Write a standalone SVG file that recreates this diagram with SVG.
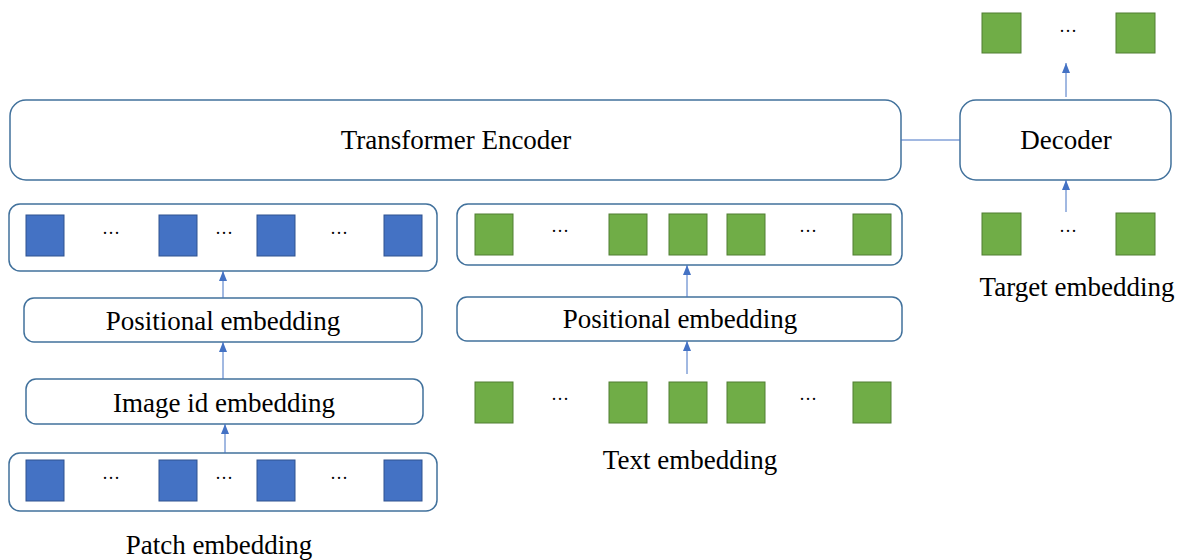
<svg xmlns="http://www.w3.org/2000/svg" width="1177" height="560" viewBox="0 0 1177 560">
<style>
.box{fill:#fff;stroke:#41719C;stroke-width:1.5}
.b{fill:#4472C4;stroke:#2F528F;stroke-width:1}
.g{fill:#70AD47;stroke:#507E32;stroke-width:1}
.t{font-family:"Liberation Serif","Times New Roman",serif;font-size:27px;fill:#000;text-anchor:middle}
.d{font-family:"Liberation Serif","Times New Roman",serif;font-size:18px;fill:#000;text-anchor:middle}
.c{stroke:#4472C4;stroke-width:1;fill:none}
</style>
<defs>
<marker id="ahu" viewBox="0 0 8 10" refX="4" refY="0" markerWidth="8" markerHeight="10" markerUnits="userSpaceOnUse" orient="0">
<path d="M0,10 L4,0 L8,10 Z" fill="#4472C4"/>
</marker>
</defs>
<g id="encoder">
<rect class="box" x="10" y="100" width="891" height="80" rx="16"/>
<text class="t" x="456" y="149">Transformer Encoder</text>
</g>
<g id="decoder">
<rect class="box" x="960" y="100" width="211" height="80" rx="16"/>
<text class="t" x="1066" y="149">Decoder</text>
</g>
<g id="target-output">
<rect class="g" x="982" y="13" width="39" height="40"/>
<text class="d" x="1068" y="37">···</text>
<rect class="g" x="1116" y="13" width="39" height="40"/>
</g>
<g id="target-embedding">
<rect class="g" x="982" y="213" width="39" height="42"/>
<text class="d" x="1068" y="237">···</text>
<rect class="g" x="1116" y="213" width="39" height="42"/>
<text class="t" x="1077" y="296">Target embedding</text>
</g>
<g id="patch-row-top">
<rect class="box" x="9" y="204" width="428" height="67" rx="11"/>
<rect class="b" x="26" y="215" width="38" height="41"/>
<text class="d" x="111" y="239">···</text>
<rect class="b" x="159" y="215" width="38" height="41"/>
<text class="d" x="224" y="239">···</text>
<rect class="b" x="257" y="215" width="38" height="41"/>
<text class="d" x="339" y="239">···</text>
<rect class="b" x="384" y="215" width="38" height="41"/>
</g>
<g id="pos-left">
<rect class="box" x="24" y="298" width="398" height="44" rx="10"/>
<text class="t" x="223" y="330">Positional embedding</text>
</g>
<g id="image-id">
<rect class="box" x="26" y="379" width="397" height="45" rx="10"/>
<text class="t" x="224" y="412">Image id embedding</text>
</g>
<g id="patch-row-bottom">
<rect class="box" x="9" y="453" width="428" height="58" rx="11"/>
<rect class="b" x="26" y="460" width="38" height="41"/>
<text class="d" x="111" y="484">···</text>
<rect class="b" x="159" y="460" width="38" height="41"/>
<text class="d" x="224" y="484">···</text>
<rect class="b" x="257" y="460" width="38" height="41"/>
<text class="d" x="339" y="484">···</text>
<rect class="b" x="384" y="460" width="38" height="41"/>
<text class="t" x="219" y="554">Patch embedding</text>
</g>
<g id="text-row-top">
<rect class="box" x="457" y="204" width="445" height="61" rx="11"/>
<rect class="g" x="475" y="214" width="38" height="41"/>
<text class="d" x="560" y="237">···</text>
<rect class="g" x="609" y="214" width="38" height="41"/>
<rect class="g" x="669" y="214" width="38" height="41"/>
<rect class="g" x="727" y="214" width="38" height="41"/>
<text class="d" x="808" y="237">···</text>
<rect class="g" x="853" y="214" width="38" height="41"/>
</g>
<g id="pos-right">
<rect class="box" x="457" y="297" width="445" height="44" rx="10"/>
<text class="t" x="680" y="328">Positional embedding</text>
</g>
<g id="text-embedding">
<rect class="g" x="475" y="382" width="38" height="41"/>
<text class="d" x="560" y="405">···</text>
<rect class="g" x="609" y="382" width="38" height="41"/>
<rect class="g" x="669" y="382" width="38" height="41"/>
<rect class="g" x="727" y="382" width="38" height="41"/>
<text class="d" x="808" y="405">···</text>
<rect class="g" x="853" y="382" width="38" height="41"/>
<text class="t" x="690" y="469">Text embedding</text>
</g>
<g id="connectors">
<line class="c" x1="901" y1="140" x2="960" y2="140"/>
<line class="c" x1="1066" y1="97" x2="1066" y2="63" marker-end="url(#ahu)"/>
<line class="c" x1="1066" y1="212" x2="1066" y2="180" marker-end="url(#ahu)"/>
<line class="c" x1="223" y1="298" x2="223" y2="271" marker-end="url(#ahu)"/>
<line class="c" x1="223" y1="379" x2="223" y2="342" marker-end="url(#ahu)"/>
<line class="c" x1="225" y1="453" x2="225" y2="424" marker-end="url(#ahu)"/>
<line class="c" x1="687" y1="297" x2="687" y2="265" marker-end="url(#ahu)"/>
<line class="c" x1="687" y1="374" x2="687" y2="341" marker-end="url(#ahu)"/>
</g>
</svg>
